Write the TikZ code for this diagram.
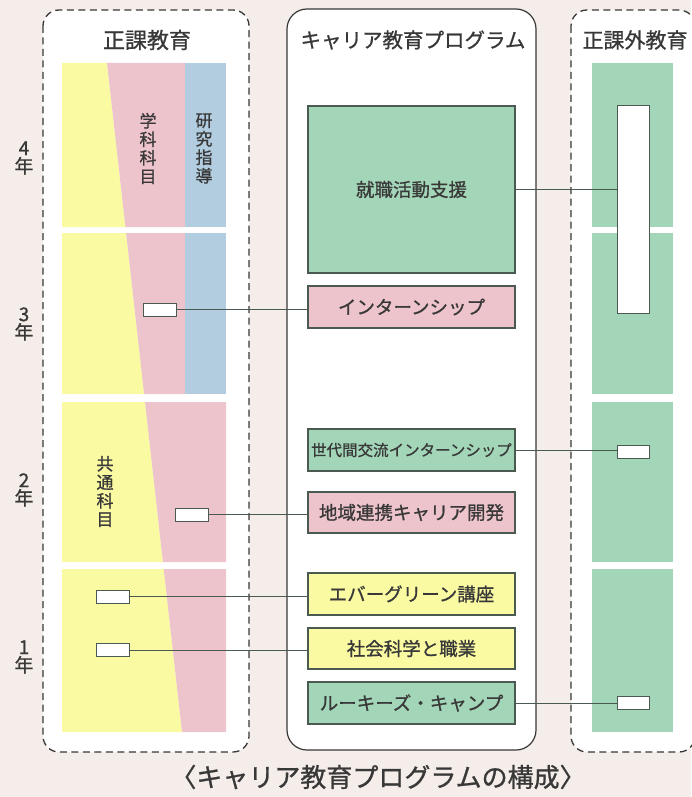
\documentclass[tikz,border=0pt]{standalone}
\usepackage{fontspec}
\setmainfont{Noto Sans CJK JP}[FakeBold=0.9]
\definecolor{bgc}{HTML}{F4EDE9}
\definecolor{yel}{HTML}{FAFAA2}
\definecolor{pnk}{HTML}{EDC4CC}
\definecolor{blu}{HTML}{B3CDE0}
\definecolor{grn}{HTML}{A3D6B8}
\definecolor{ink}{HTML}{383838}
\definecolor{edge}{HTML}{4B5A50}
\tikzset{
  dashbox/.style={draw=ink, line width=1.3pt, dash pattern=on 7pt off 4.5pt, fill=white, rounded corners=16pt},
  solidbox/.style={draw=ink, line width=1.2pt, fill=white, rounded corners=20pt},
  prog/.style={draw=edge, line width=1.2pt, minimum width=207pt, inner sep=0pt, text=ink, font=\fontsize{18.5}{20}\selectfont},
  port/.style={draw=edge, line width=1pt, fill=white, minimum width=33pt, minimum height=13pt, inner sep=0pt},
  conn/.style={draw=edge, line width=0.9pt},
  title/.style={text=ink, inner sep=0pt, font=\fontsize{22}{24}\selectfont},
  vlab/.style={text=ink, inner sep=0pt, align=center, font=\fontsize{17}{18.5}\selectfont},
  year/.style={text=ink, inner sep=0pt, align=center, font=\fontsize{19}{18}\selectfont},
}
\begin{document}
\begin{tikzpicture}[x=1pt,y=-1pt]
\useasboundingbox (0,0) rectangle (691,797);
\fill[bgc] (0,0) rectangle (691,797);

% frames
\path[dashbox] (43,10) rectangle (249,752);
\path[solidbox] (287,9) rectangle (536,750);
\path[dashbox] (571,10) rectangle (695,752);

% titles
\node[title] (t1) at (147,40) {正課教育};
\node[title, font=\fontsize{20.5}{22}\selectfont] (t2) at (413,40) {キャリア教育プログラム};
\node[title, font=\fontsize{21}{23}\selectfont] (t3) at (635,40) {正課外教育};

% left column blocks
% row 4
\fill[yel] (62,63) -- (107,63) -- (125.4,227) -- (62,227) -- cycle;
\fill[pnk] (107,63) -- (185,63) -- (185,227) -- (125.4,227) -- cycle;
\fill[blu] (185,63) rectangle (226,227);
% row 3
\fill[yel] (62,233) -- (126.1,233) -- (144.1,394) -- (62,394) -- cycle;
\fill[pnk] (126.1,233) -- (185,233) -- (185,394) -- (144.1,394) -- cycle;
\fill[blu] (185,233) rectangle (226,394);
% row 2
\fill[yel] (62,402) -- (145,402) -- (162.9,562) -- (62,562) -- cycle;
\fill[pnk] (145,402) -- (226,402) -- (226,562) -- (162.9,562) -- cycle;
% row 1
\fill[yel] (62,569) -- (163.7,569) -- (182,732) -- (62,732) -- cycle;
\fill[pnk] (163.7,569) -- (226,569) -- (226,732) -- (182,732) -- cycle;

% right column blocks
\fill[grn] (592,63) rectangle (673,227);
\fill[grn] (592,233) rectangle (673,394);
\fill[grn] (592,402) rectangle (673,562);
\fill[grn] (592,569) rectangle (673,732);

% vertical labels
\node[vlab] (gakka) at (148,148.5) {学\\科\\科\\目};
\node[vlab] (kenkyu) at (204,148.5) {研\\究\\指\\導};
\node[vlab] (kyotsu) at (105,491.5) {共\\通\\科\\目};

% years
\node[year] (y4) at (24,158) {4\\年};
\node[year] (y3) at (24,324) {3\\年};
\node[year] (y2) at (24,490) {2\\年};
\node[year] (y1) at (24,657) {1\\年};

% program boxes
\node[prog, fill=grn, minimum height=167pt] (shushoku) at (411.5,189.5) {就職活動支援};
\node[prog, fill=pnk, minimum height=42pt] (intern) at (411.5,307) {インターンシップ};
\node[prog, fill=grn, minimum height=42pt, font=\fontsize{15.5}{17}\selectfont] (sedai) at (411.5,450) {世代間交流インターンシップ};
\node[prog, fill=pnk, minimum height=41pt] (chiiki) at (411.5,512.5) {地域連携キャリア開発};
\node[prog, fill=yel, minimum height=42pt] (ever) at (411.5,594) {エバーグリーン講座};
\node[prog, fill=yel, minimum height=41pt] (shakai) at (411.5,648.5) {社会科学と職業};
\node[prog, fill=grn, minimum height=42pt] (rookies) at (411.5,703) {ルーキーズ・キャンプ};

% ports (left)
\node[port] (p3) at (159.5,309.5) {};
\node[port] (p2) at (192,514.5) {};
\node[port] (p1a) at (112.5,596.5) {};
\node[port] (p1b) at (112.5,650) {};
% ports (right)
\node[port, minimum width=32pt, minimum height=207pt] (ptall) at (633,209.5) {};
\node[port, minimum width=32pt] (psedai) at (633,451.5) {};
\node[port, minimum width=32pt] (prook) at (633,703) {};

% connectors
\draw[conn] (p3.east) -- (p3.east -| intern.west);
\draw[conn] (p2.east) -- (p2.east -| chiiki.west);
\draw[conn] (p1a.east) -- (p1a.east -| ever.west);
\draw[conn] (p1b.east) -- (p1b.east -| shakai.west);
\draw[conn] (shushoku.east) -- (shushoku.east -| ptall.west);
\draw[conn] (sedai.east) -- (sedai.east -| psedai.west);
\draw[conn] (rookies.east) -- (rookies.east -| prook.west);

% caption
\node[title, font=\fontsize{26}{28}\selectfont] (cap) at (378,777) {〈キャリア教育プログラムの構成〉};
\end{tikzpicture}
\end{document}
